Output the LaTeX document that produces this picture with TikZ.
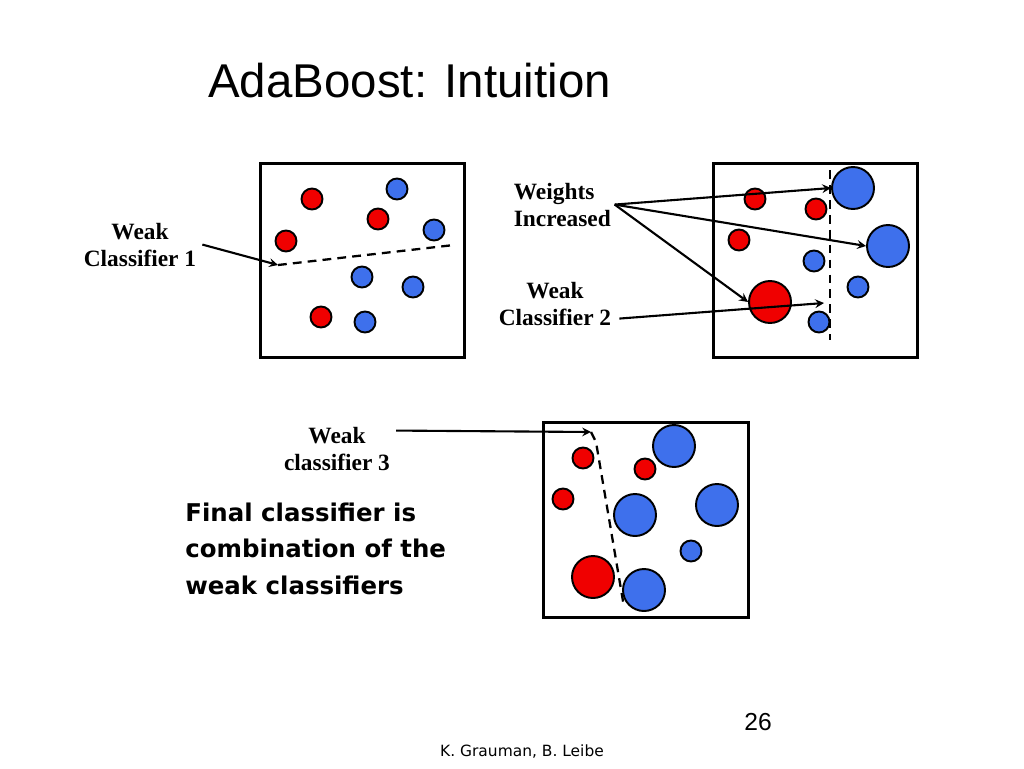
\documentclass[tikz,border=0pt]{standalone}
\usepackage{fontspec}
\setmainfont{Liberation Sans}
\newfontfamily\serifbold{Liberation Serif}
\newfontfamily\dejavu{DejaVu Sans}
\definecolor{ptred}{RGB}{240,0,0}
\definecolor{ptblue}{RGB}{62,112,236}

\begin{document}
\begin{tikzpicture}[x=0.02cm,y=-0.02cm,>=stealth,
panel/.style={draw,rectangle,line width=1.7pt,minimum width=4.1cm,minimum height=3.9cm,inner sep=0pt},
plusdot/.style={circle,draw,line width=1.1pt,fill=ptblue,minimum size=0.42cm,inner sep=0pt},
minusdot/.style={circle,draw,line width=1.1pt,fill=ptred,minimum size=0.42cm,inner sep=0pt},
big/.style={minimum size=0.84cm},
wlabel/.style={font=\serifbold\bfseries\fontsize{13.3}{15.3}\selectfont,align=center},
arrow/.style={->,line width=1.2pt},
bound/.style={line width=1.3pt,dash pattern=on 5pt off 3.5pt}]

\useasboundingbox (0,0) rectangle (1024,768);

\draw (208,97) node[anchor=base west,inner sep=0pt,font=\fontsize{27}{30}\selectfont] (title) {AdaBoost: Intuition};

% first round
\draw (362.5,260.5) node[panel] (P1) {};
\draw (312,199) node[minusdot] (a1) {};
\draw (397,189) node[plusdot] (a2) {};
\draw (378,219) node[minusdot] (a3) {};
\draw (286,241) node[minusdot] (a4) {};
\draw (434,230) node[plusdot] (a5) {};
\draw (362,277) node[plusdot] (a6) {};
\draw (413,287) node[plusdot] (a7) {};
\draw (321,317) node[minusdot] (a8) {};
\draw (365,322) node[plusdot] (a9) {};
\coordinate (h1a) at (278,265);
\coordinate (h1b) at (454,245);
\draw[bound] (h1a) -- (h1b);
\draw (140,266) node[wlabel,anchor=base] (wc1) {Weak\\Classifier 1};
\draw[arrow] (wc1.east) -- (h1a);

% second round
\draw (815.5,260.5) node[panel] (P2) {};
\coordinate (h2a) at (830,170);
\coordinate (h2b) at (830,340);
\draw[bound] (h2a) -- (h2b);
\draw (755,199) node[minusdot] (b1) {};
\draw (816,209) node[minusdot] (b2) {};
\draw (853,188) node[plusdot,big] (b3) {};
\draw (739,240) node[minusdot] (b4) {};
\draw (888,246) node[plusdot,big] (b5) {};
\draw (814,261) node[plusdot] (b6) {};
\draw (858,287) node[plusdot] (b7) {};
\draw (770,302) node[minusdot,big] (b8) {};
\draw (819,322) node[plusdot] (b9) {};
\draw (510,226) node[wlabel,align=left,anchor=base west,inner sep=2pt] (wi) {Weights\\Increased};
\draw[arrow] (wi.east) -- (b3.west);
\draw[arrow] (wi.east) -- (b5.west);
\draw[arrow] (wi.east) -- (b8.west);
\draw (555,325) node[wlabel,anchor=base] (wc2) {Weak\\Classifier 2};
\draw[arrow] (wc2.east) ++(2,15) -- (824,303);

% third round
\draw (646,520) node[panel] (P3) {};
\coordinate (h3a) at (591,432);
\coordinate (h3b) at (624,607);
\draw[bound] (h3a) -- (596,442) -- (h3b);
\draw (583,458) node[minusdot] (c1) {};
\draw (645,469) node[minusdot] (c2) {};
\draw (674,446) node[plusdot,big] (c3) {};
\draw (563,499) node[minusdot] (c4) {};
\draw (635,515) node[plusdot,big] (c5) {};
\draw (717,505) node[plusdot,big] (c6) {};
\draw (691,551) node[plusdot] (c7) {};
\draw (593,577) node[minusdot,big] (c8) {};
\draw (644,590) node[plusdot,big] (c9) {};
\draw (337,470) node[wlabel,anchor=base] (wc3) {Weak\\classifier 3};
\draw[arrow] (wc3.east) ++(0,-18) -- (h3a);

\draw (185,594) node[anchor=base west,inner sep=0pt,align=left,font=\dejavu\bfseries\fontsize{13.9}{20.5}\selectfont] (final) {Final classifier is\\combination of the\\weak classifiers};

\draw (758,730) node[anchor=base,inner sep=0pt,font=\fontsize{14}{16}\selectfont] (page) {26};
\draw (522,756) node[anchor=base,inner sep=0pt,font=\dejavu\fontsize{8.8}{10}\selectfont] (credit) {K. Grauman, B. Leibe};

\end{tikzpicture}
\end{document}
